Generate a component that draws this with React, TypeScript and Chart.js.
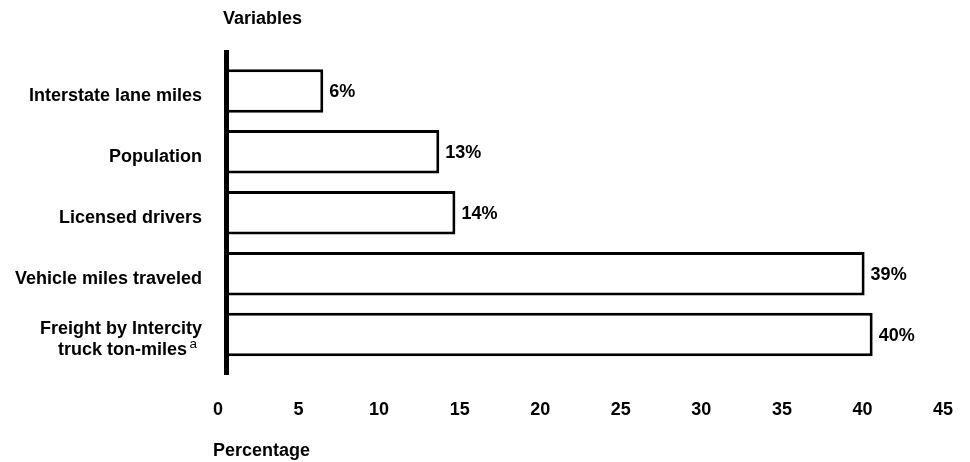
import { useEffect, useRef } from "react";
import { Chart, registerables } from "chart.js";

Chart.register(...registerables);

const categories: (string | string[])[] = [
  "Interstate lane miles",
  "Population",
  "Licensed drivers",
  "Vehicle miles traveled",
  ["Freight by Intercity", "truck ton-miles   "],
];
const footnoteMark = "a";
const barValues = [6.1, 13.3, 14.3, 39.7, 40.2];
const valueLabels = ["6%", "13%", "14%", "39%", "40%"];
const xTickMin = 0;
const xTickMax = 45;
const xTickStep = 5;
const yTitle = "Variables";
const xTitle = "Percentage";

const FONT = '"Liberation Sans", Arial, Helvetica, sans-serif';
const FS = 18;
const Y_LABEL_OFFSET = 5;
const LINE_H = 1.2;

const decorPlugin = {
  id: "decor",
  afterDatasetsDraw(chart: any) {
    const ctx = chart.ctx;
    const area = chart.chartArea;
    const yScale = chart.scales.y;
    ctx.save();
    // thick vertical axis line
    ctx.fillStyle = "#000";
    ctx.fillRect(area.left - 1, area.top - 10.5, 5, area.bottom - area.top + 20.5);
    // value labels
    ctx.font = `bold ${FS}px ${FONT}`;
    ctx.textAlign = "left";
    ctx.textBaseline = "middle";
    const meta = chart.getDatasetMeta(0);
    meta.data.forEach((bar: any, i: number) => {
      ctx.fillText(valueLabels[i], bar.x + 6, bar.y + 1);
    });
    // axis titles
    ctx.fillText(yTitle, 223, 19);
    ctx.fillText(xTitle, 213, 451);
    // footnote superscript on last category label
    const last = categories.length - 1;
    const line2Mid = yScale.getPixelForValue(last) + Y_LABEL_OFFSET + (FS * LINE_H) / 2;
    ctx.font = `${13.5}px ${FONT}`;
    ctx.textAlign = "right";
    ctx.fillText(footnoteMark, yScale.right - 23 - 5, line2Mid - 6);
    ctx.restore();
  },
};

export default function App() {
  const ref = useRef<HTMLCanvasElement | null>(null);
  useEffect(() => {
    if (!ref.current) return;
    const chart = new Chart(ref.current, {
      type: "bar",
      data: {
        labels: categories,
        datasets: [
          {
            data: barValues,
            backgroundColor: "#ffffff",
            borderColor: "#000000",
            borderWidth: 3,
            borderSkipped: false,
            barPercentage: 0.714,
            categoryPercentage: 1,
          },
        ],
      },
      options: {
        indexAxis: "y",
        animation: false,
        responsive: true,
        maintainAspectRatio: false,
        layout: { padding: { left: 0, top: 60.5, right: 20, bottom: 0 } },
        plugins: {
          legend: { display: false },
          tooltip: { enabled: false },
          title: { display: false },
        },
        scales: {
          x: {
            type: "linear",
            min: xTickMin,
            max: xTickMax,
            grid: { display: false, drawTicks: false },
            border: { display: false },
            ticks: {
              stepSize: xTickStep,
              color: "#000",
              font: { family: FONT, size: FS, weight: "bold" },
              padding: 34,
              labelOffset: -7,
              maxRotation: 0,
              autoSkip: false,
            },
            afterFit(scale: any) {
              scale.height = 97;
              scale.paddingLeft = 0;
              scale.paddingRight = 0;
            },
          },
          y: {
            type: "category",
            grid: { display: false, drawTicks: false },
            border: { display: false },
            ticks: {
              color: "#000",
              font: { family: FONT, size: FS, weight: "bold", lineHeight: LINE_H },
              padding: 23,
              labelOffset: Y_LABEL_OFFSET,
              autoSkip: false,
            },
            afterFit(scale: any) {
              scale.width = 225;
              scale.paddingTop = 0;
              scale.paddingBottom = 0;
            },
          },
        },
      },
      plugins: [decorPlugin],
    });
    return () => chart.destroy();
  }, []);
  return (
    <div style={{ position: "fixed", left: 0, top: 0, width: 970, height: 462, background: "#fff" }}>
      <canvas ref={ref} />
    </div>
  );
}
